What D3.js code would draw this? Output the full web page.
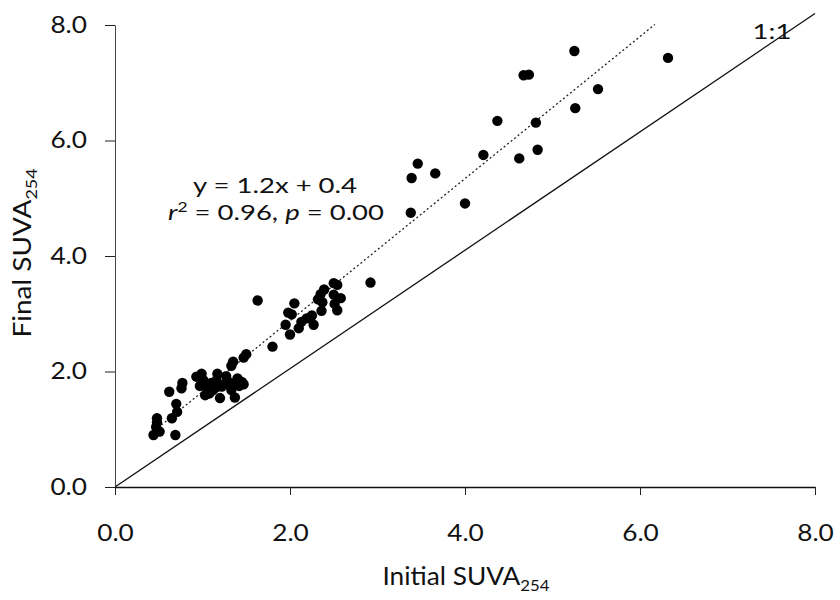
<!DOCTYPE html>
<html>
<head>
<meta charset="utf-8">
<script src="https://cdn.jsdelivr.net/npm/d3@7"></script>
<style>
  body { margin: 0; background: #fff; }
  text { font-family: Lato, "Open Sans", sans-serif; fill: #111; }
</style>
</head>
<body>
<div id="chart"></div>
<script>
// values
var initialSuva = [
    5.25, 6.32, 4.67, 4.73, 5.52, 5.26, 4.37, 4.81, 4.21, 4.62, 4.83, 3.46, 3.66, 3.39, 4.00, 3.38, 2.92,
    1.63, 2.05, 1.98, 2.02, 1.95, 2.00, 2.10, 2.13, 2.19, 2.25, 2.27, 2.36, 2.37, 2.32, 2.35, 2.39, 2.50, 2.54, 2.50, 2.58, 2.51, 2.54, 1.80,
    1.50, 1.47, 1.35, 1.33,
    0.93, 0.99, 1.01, 0.97, 1.05, 1.03, 1.10, 1.12, 1.17, 1.16, 1.20, 1.22, 1.27, 1.30, 1.33, 1.37, 1.40, 1.45, 1.47, 1.08, 1.25, 1.35, 1.15, 1.42,
    0.77, 0.76, 0.62, 0.70, 0.71, 0.65, 0.48, 0.47, 0.51, 0.44, 0.69, 0.48
];
var finalSuva = [
    7.55, 7.43, 7.13, 7.14, 6.89, 6.56, 6.34, 6.31, 5.75, 5.69, 5.84, 5.60, 5.43, 5.35, 4.91, 4.75, 3.54,
    3.23, 3.18, 3.02, 2.99, 2.81, 2.64, 2.75, 2.86, 2.92, 2.97, 2.81, 3.05, 3.20, 3.25, 3.34, 3.42, 3.53, 3.50, 3.33, 3.27, 3.17, 3.06, 2.43,
    2.30, 2.24, 2.17, 2.10,
    1.91, 1.96, 1.85, 1.75, 1.71, 1.59, 1.80, 1.68, 1.96, 1.85, 1.54, 1.74, 1.92, 1.82, 1.68, 1.55, 1.88, 1.82, 1.78, 1.62, 1.78, 1.78, 1.72, 1.75,
    1.80, 1.71, 1.65, 1.44, 1.30, 1.19, 1.19, 1.04, 0.96, 0.90, 0.90, 1.12
];
var tickValues = [0, 2, 4, 6, 8];
// dotted fit line as drawn (ends where it was cut off)
var fitX = [0.45, 6.17];
var fitSlope = 1.23, fitIntercept = 0.42;
// the 1:1 line in the scan drifts slightly above 8 at the right end
var oneToOneX = [0, 8];
var oneToOneY = [0, 8.2];

var width = 840, height = 600;
var svg, xScale, yScale;

// the scanned text is wider than any installed font, so stretch it
function placeText(x, y, sx, size) {
    return svg.append("text")
        .attr("transform", "translate(" + x + "," + y + ") scale(" + sx + ",1)")
        .style("text-anchor", "middle")
        .style("font-size", size + "px");
}

function setupAxes() {
    svg = d3.select("#chart").append("svg")
        .attr("width", width)
        .attr("height", height);

    xScale = d3.scaleLinear().domain([0, 8]).range([115, 815]);
    yScale = d3.scaleLinear().domain([0, 8]).range([487, 25]);

    var xAxis = svg.append("g")
        .attr("transform", "translate(0," + yScale(0) + ")")
        .call(d3.axisBottom(xScale).tickValues(tickValues).tickFormat(d3.format(".1f")).tickSize(8).tickSizeOuter(0).tickPadding(30));
    var yAxis = svg.append("g")
        .attr("transform", "translate(" + xScale(0) + ",0)")
        .call(d3.axisLeft(yScale).tickValues(tickValues).tickFormat(d3.format(".1f")).tickSize(10).tickSizeOuter(0));

    xAxis.select(".domain").attr("stroke", "#111").attr("stroke-width", 1.5);
    yAxis.select(".domain").attr("stroke", "#444").attr("stroke-width", 1);
    svg.selectAll(".tick line").attr("stroke", "#222");
    svg.selectAll(".tick text").style("font-size", "23px").style("fill", "#111")
        .attr("transform", "scale(1.14,1)");
    yAxis.selectAll(".tick text").attr("x", -28 / 1.14);

    var xt = placeText(466, 585, 1.05, 25).text("Initial SUVA");
    xt.append("tspan").attr("dy", 6).style("font-size", "16px").text("254");

    var yt = svg.append("text")
        .attr("transform", "translate(31,253) rotate(-90) scale(1.12,1)")
        .style("text-anchor", "middle")
        .style("font-size", "25px")
        .text("Final SUVA");
    yt.append("tspan").attr("dy", 6).style("font-size", "16px").text("254");
}

function drawLines() {
    svg.append("line")
        .attr("x1", xScale(oneToOneX[0])).attr("y1", yScale(oneToOneY[0]))
        .attr("x2", xScale(oneToOneX[1])).attr("y2", yScale(oneToOneY[1]))
        .attr("stroke", "#111")
        .attr("stroke-width", 1.3);

    svg.append("line")
        .attr("x1", xScale(fitX[0])).attr("y1", yScale(fitSlope * fitX[0] + fitIntercept))
        .attr("x2", xScale(fitX[1])).attr("y2", yScale(fitSlope * fitX[1] + fitIntercept))
        .attr("stroke", "#222")
        .attr("stroke-width", 1.3)
        .attr("stroke-dasharray", "2,2.5");

    placeText(772, 39, 1.25, 22).text("1:1");
}

function drawPoints() {
    var pts = initialSuva.map((d, i) => ({x: d, y: finalSuva[i]}));
    svg.append("g").selectAll("circle")
        .data(pts)
        .enter()
        .append("circle")
        .attr("cx", d => xScale(d.x))
        .attr("cy", d => yScale(d.y))
        .attr("r", 5.2)
        .attr("fill", "#000");
}

function drawEquation() {
    placeText(275, 193, 1.25, 22).text("y = 1.2x + 0.4");

    var t = placeText(276, 220, 1.25, 22);
    t.append("tspan").style("font-style", "italic").text("r");
    t.append("tspan").attr("dy", -8).style("font-size", "14px").text("2");
    t.append("tspan").attr("dy", 8).text(" = 0.96, ");
    t.append("tspan").style("font-style", "italic").text("p");
    t.append("tspan").text(" = 0.00");
}

setupAxes();
drawLines();
drawPoints();
drawEquation();
</script>
</body>
</html>
